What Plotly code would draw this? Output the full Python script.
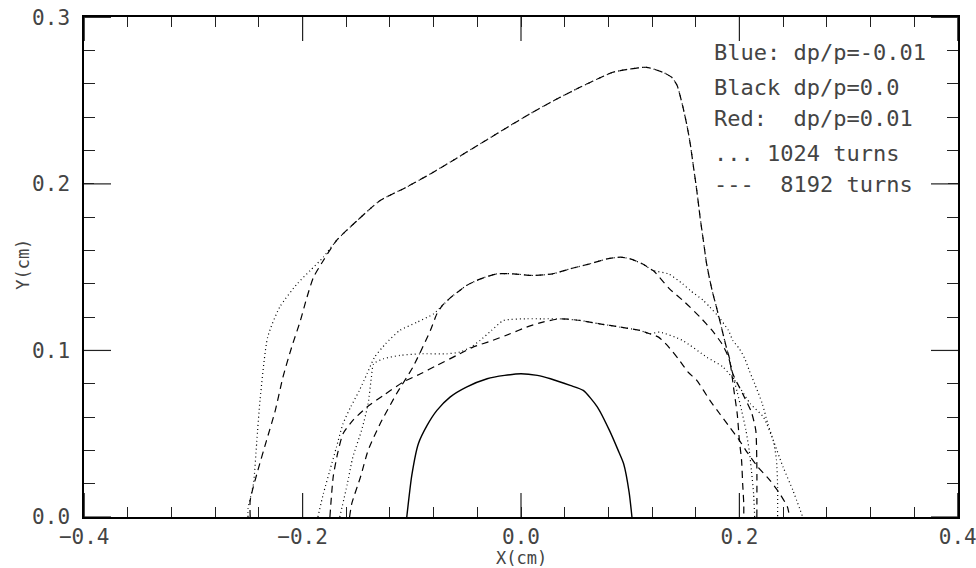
import plotly.graph_objects as go

# ---------------- data ----------------
# Group A (largest aperture)
a_dot_left_x = [-0.250, -0.250, -0.245, -0.242, -0.239, -0.232, -0.221, -0.205, -0.193, -0.181]
a_dot_left_y = [0.000, 0.005, 0.020, 0.045, 0.070, 0.108, 0.126, 0.140, 0.148, 0.156]
a_dash_left_x = [-0.248, -0.248, -0.241, -0.233, -0.225, -0.218, -0.210, -0.202, -0.196, -0.190, -0.181]
a_dash_left_y = [0.000, 0.010, 0.028, 0.046, 0.064, 0.084, 0.102, 0.118, 0.132, 0.144, 0.154]
a_top_x = [-0.169, -0.150, -0.129, -0.105, -0.083, -0.060, -0.0375, -0.015, 0.008, 0.030, 0.054, 0.070,
           0.084, 0.100, 0.115, 0.130, 0.138, 0.143, 0.148, 0.152, 0.155, 0.158, 0.161, 0.164, 0.167,
           0.170, 0.175, 0.179, 0.182, 0.185, 0.188, 0.191]
a_top_y = [0.166, 0.178, 0.190, 0.198, 0.206, 0.215, 0.224, 0.233, 0.242, 0.250, 0.258, 0.263,
           0.267, 0.269, 0.270, 0.267, 0.264, 0.259, 0.247, 0.235, 0.224, 0.210, 0.196, 0.180, 0.166,
           0.152, 0.136, 0.126, 0.118, 0.110, 0.102, 0.095]
a_dot_right_x = [0.194, 0.198, 0.202, 0.206, 0.209, 0.211, 0.213, 0.214]
a_dot_right_y = [0.085, 0.075, 0.064, 0.052, 0.040, 0.028, 0.014, 0.000]
a_dash_right_x = [0.193, 0.195, 0.198, 0.200, 0.202, 0.203, 0.204, 0.204]
a_dash_right_y = [0.086, 0.076, 0.062, 0.046, 0.034, 0.020, 0.008, 0.000]

# Group B (middle aperture)
b_dot_left_x = [-0.186, -0.181, -0.175, -0.169, -0.163, -0.156, -0.148, -0.141, -0.134, -0.124, -0.111, -0.095, -0.080]
b_dot_left_y = [0.000, 0.014, 0.028, 0.042, 0.056, 0.066, 0.076, 0.086, 0.096, 0.104, 0.112, 0.117, 0.122]
b_dash_left_x = [-0.157, -0.155, -0.147, -0.140, -0.129, -0.114, -0.099, -0.083, -0.077]
b_dash_left_y = [0.000, 0.008, 0.024, 0.040, 0.056, 0.074, 0.090, 0.112, 0.122]
b_top_x = [-0.072, -0.064, -0.056, -0.050, -0.037, -0.022, -0.007, 0.011, 0.029, 0.045, 0.063, 0.079,
           0.091, 0.100, 0.111, 0.121]
b_top_y = [0.127, 0.132, 0.136, 0.139, 0.143, 0.146, 0.146, 0.145, 0.146, 0.149, 0.152, 0.155,
           0.156, 0.155, 0.152, 0.148]
b_dot_right_x = [0.135, 0.148, 0.155, 0.167, 0.173, 0.180, 0.190, 0.194, 0.200, 0.205, 0.209, 0.214,
                 0.221, 0.226, 0.231, 0.234, 0.235, 0.235]
b_dot_right_y = [0.146, 0.140, 0.136, 0.130, 0.126, 0.121, 0.112, 0.106, 0.101, 0.095, 0.088, 0.080,
                 0.068, 0.056, 0.046, 0.034, 0.018, 0.000]
b_dash_right_x = [0.124, 0.136, 0.150, 0.164, 0.175, 0.184, 0.190, 0.194, 0.203, 0.211, 0.215, 0.216, 0.216]
b_dash_right_y = [0.146, 0.137, 0.129, 0.120, 0.112, 0.104, 0.096, 0.086, 0.074, 0.063, 0.052, 0.030, 0.000]

# Group C (lower aperture)
c_dot_left_x = [-0.166, -0.159, -0.154, -0.146, -0.140, -0.137, -0.135, -0.126, -0.111, -0.092, -0.068,
                -0.056, -0.046, -0.0375, -0.027, -0.016, 0.005, 0.020]
c_dot_left_y = [0.000, 0.020, 0.036, 0.052, 0.068, 0.084, 0.092, 0.095, 0.097, 0.098, 0.098,
                0.099, 0.102, 0.106, 0.112, 0.118, 0.119, 0.119]
c_dash_left_x = [-0.175, -0.172, -0.168, -0.163, -0.154, -0.141, -0.126, -0.108, -0.092, -0.077, -0.059,
                 -0.044, -0.026, -0.010, 0.005, 0.020]
c_dash_left_y = [0.000, 0.024, 0.038, 0.050, 0.058, 0.066, 0.073, 0.081, 0.086, 0.091, 0.097,
                 0.102, 0.106, 0.110, 0.114, 0.117]
c_top_x = [0.036, 0.054, 0.072, 0.091, 0.109, 0.118]
c_top_y = [0.119, 0.118, 0.116, 0.114, 0.112, 0.110]
c_dot_right_x = [0.127, 0.148, 0.170, 0.185, 0.198, 0.210, 0.222, 0.231, 0.240, 0.249, 0.258]
c_dot_right_y = [0.111, 0.106, 0.096, 0.090, 0.080, 0.068, 0.060, 0.046, 0.030, 0.016, 0.000]
c_dash_right_x = [0.126, 0.134, 0.144, 0.153, 0.161, 0.173, 0.182, 0.191, 0.200, 0.208, 0.217, 0.228,
                  0.237, 0.244, 0.246]
c_dash_right_y = [0.108, 0.103, 0.095, 0.087, 0.082, 0.070, 0.062, 0.054, 0.046, 0.038, 0.030, 0.022,
                  0.014, 0.006, 0.000]

# Solid inner curve
solid_x = [-0.1046, -0.100, -0.094, -0.086, -0.077, -0.065, -0.050, -0.031, -0.015, 0.000, 0.015, 0.027,
           0.045, 0.057, 0.070, 0.081, 0.089, 0.094, 0.099, 0.1016]
solid_y = [0.000, 0.025, 0.044, 0.055, 0.064, 0.072, 0.078, 0.083, 0.085, 0.086, 0.085, 0.083,
           0.079, 0.076, 0.066, 0.052, 0.040, 0.032, 0.015, 0.000]

legend_lines = ["Blue: dp/p=-0.01", "Black dp/p=0.0", "Red:  dp/p=0.01", "... 1024 turns", "---  8192 turns"]

x_title = "X(cm)"
y_title = "Y(cm)"
x_major = [-0.4, -0.2, 0.0, 0.2, 0.4]
y_major = [0.0, 0.1, 0.2, 0.3]

# ---------------- figure ----------------
DOT = dict(color="black", width=1.2, dash="1px,3px")
DASH = dict(color="black", width=1.2, dash="7px,5px")

fig = go.Figure()

curves = [
    (a_dot_left_x + a_top_x + a_dot_right_x, a_dot_left_y + a_top_y + a_dot_right_y, DOT),
    (a_dash_left_x + a_top_x + a_dash_right_x, a_dash_left_y + a_top_y + a_dash_right_y, DASH),
    (b_dot_left_x + b_top_x + b_dot_right_x, b_dot_left_y + b_top_y + b_dot_right_y, DOT),
    (b_dash_left_x + b_top_x + b_dash_right_x, b_dash_left_y + b_top_y + b_dash_right_y, DASH),
    (c_dot_left_x + c_top_x + c_dot_right_x, c_dot_left_y + c_top_y + c_dot_right_y, DOT),
    (c_dash_left_x + c_top_x + c_dash_right_x, c_dash_left_y + c_top_y + c_dash_right_y, DASH),
]
for xs, ys, ln in curves:
    fig.add_trace(go.Scatter(x=xs, y=ys, mode="lines", line=dict(ln, shape="spline", smoothing=0.6),
                             showlegend=False, hoverinfo="skip", cliponaxis=False))

fig.add_trace(go.Scatter(x=solid_x, y=solid_y, mode="lines",
                         line=dict(color="black", width=1.4, shape="spline", smoothing=0.6),
                         showlegend=False, hoverinfo="skip"))

FONT = "DejaVu Sans Mono"
TXT = "#444444"

legend_y = [0.928, 0.860, 0.796, 0.728, 0.664]
for txt, yy in zip(legend_lines, legend_y):
    fig.add_annotation(x=0.7185, y=yy, xref="paper", yref="paper", xanchor="left", yanchor="middle",
                       text=txt.replace(" ", "\u00a0"), showarrow=False,
                       font=dict(family=FONT, size=22, color=TXT))

# axis titles
fig.add_annotation(x=0.5, y=-0.081, xref="paper", yref="paper", xanchor="center", yanchor="middle",
                   text=x_title, showarrow=False, font=dict(family=FONT, size=17, color=TXT))
fig.add_annotation(x=-0.070, y=0.506, xref="paper", yref="paper", xanchor="center", yanchor="middle",
                   text=y_title, textangle=-90, showarrow=False, font=dict(family=FONT, size=17, color=TXT))

# long major ticks on all four sides (pixel-sized, anchored to the axis values)
TICK = dict(color="#222222", width=1.2)
for xv in x_major:
    fig.add_shape(type="line", xref="x", yref="paper", x0=xv, x1=xv, ysizemode="pixel",
                  yanchor=0, y0=0, y1=24, line=TICK, layer="above")
    fig.add_shape(type="line", xref="x", yref="paper", x0=xv, x1=xv, ysizemode="pixel",
                  yanchor=1, y0=0, y1=-24, line=TICK, layer="above")
for yv in y_major:
    fig.add_shape(type="line", xref="paper", yref="y", y0=yv, y1=yv, xsizemode="pixel",
                  xanchor=0, x0=0, x1=27, line=TICK, layer="above")
    fig.add_shape(type="line", xref="paper", yref="y", y0=yv, y1=yv, xsizemode="pixel",
                  xanchor=1, x0=0, x1=-27, line=TICK, layer="above")

axis_common = dict(
    showgrid=False, zeroline=False, showline=True, linecolor="black", linewidth=1.5,
    mirror="allticks", ticks="inside", ticklen=10, tickwidth=1.2, tickcolor="#222222",
    tickfont=dict(family=FONT, size=21, color=TXT), automargin=False, tickformat=".1f",
    tickmode="linear", ticklabeloverflow="allow",
)

fig.update_xaxes(range=[-0.4002, 0.4002], tick0=-0.4, dtick=0.2,
                 minor=dict(dtick=0.04, tick0=-0.4, ticks="inside", ticklen=10, tickwidth=1.2,
                            tickcolor="#222222", showgrid=False),
                 **axis_common)
fig.update_yaxes(range=[0.0, 0.3002], tick0=0.0, dtick=0.1,
                 minor=dict(dtick=0.02, tick0=0.0, ticks="inside", ticklen=11, tickwidth=1.2,
                            tickcolor="#222222", showgrid=False),
                 ticklabelstandoff=8,
                 **axis_common)

fig.update_layout(
    width=976, height=568,
    margin=dict(l=84, r=18, t=17, b=51),
    plot_bgcolor="white", paper_bgcolor="white",
)

fig.write_html("out.html", config={"displayModeBar": False},
               post_script="document.body.style.margin='0';document.body.style.overflow='hidden';")
